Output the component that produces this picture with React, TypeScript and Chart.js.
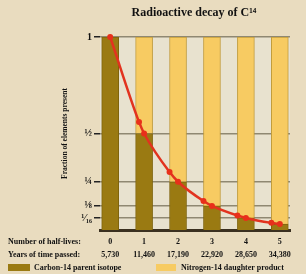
import React, { useEffect, useRef } from "react";
import { Chart, registerables } from "chart.js";
Chart.register(...registerables);

const halfLives = [0, 1, 2, 3, 4, 5];
const yearsPassed = ["5,730", "11,460", "17,190", "22,920", "28,650", "34,380"];
const carbon14 = [1, 0.5, 0.25, 0.125, 0.0625, 0.03125];
const nitrogen14 = [0, 0.5, 0.75, 0.875, 0.9375, 0.96875];
const curveX = [0, 0.85, 1, 1.75, 2, 2.75, 3, 3.75, 4, 4.75, 5];
const curveY = [1, 0.56, 0.5, 0.3, 0.25, 0.15, 0.125, 0.075, 0.0625, 0.037, 0.031];
const yTickValues = [1, 0.5, 0.25, 0.125, 0.0625];
const yTickLabels = ["1", "½", "¼", "⅛", "¹⁄₁₆"];

const FONT = "'Liberation Serif', 'DejaVu Serif', serif";
const PAGE_BG = "#e9dcbf";
const PLOT_BG = "#e8e2cf";
const OLIVE = "#9a7a12";
const YELLOW = "#f7cb62";

const decor = {
  id: "decor",
  beforeDraw(chart: any) {
    const { ctx, chartArea: a } = chart;
    ctx.save();
    ctx.fillStyle = PAGE_BG;
    ctx.fillRect(0, 0, chart.width, chart.height);
    ctx.fillStyle = PLOT_BG;
    ctx.fillRect(a.left, a.top, a.right - a.left, a.bottom - a.top);
    ctx.restore();
  },
  afterDraw(chart: any) {
    const { ctx, chartArea: a } = chart;
    ctx.save();
    ctx.fillStyle = "#111";
    ctx.textBaseline = "middle";
    ctx.font = `bold 12px ${FONT}`;
    ctx.textAlign = "center";
    ctx.fillText("Radioactive decay of C¹⁴", 194, 13);
    ctx.save();
    ctx.translate(65, (a.top + a.bottom) / 2);
    ctx.rotate(-Math.PI / 2);
    ctx.font = `bold 7.5px ${FONT}`;
    ctx.fillText("Fraction of elements present", 0, 0);
    ctx.restore();
    ctx.font = `bold 8px ${FONT}`;
    ctx.textAlign = "left";
    ctx.fillText("Number of half-lives:", 8, 242);
    ctx.fillText("Years of time passed:", 8, 255);
    ctx.fillStyle = OLIVE;
    ctx.fillRect(8, 264, 22, 7);
    ctx.fillStyle = YELLOW;
    ctx.fillRect(156, 264, 20, 7);
    ctx.fillStyle = "#111";
    ctx.fillText("Carbon-14 parent isotope", 34, 268);
    ctx.fillText("Nitrogen-14 daughter product", 181, 268);
    ctx.restore();
  },
};

export default function App() {
  const ref = useRef<HTMLCanvasElement | null>(null);
  useEffect(() => {
    if (!ref.current) return;
    const chart = new Chart(ref.current, {
      type: "bar",
      data: {
        datasets: [
          {
            type: "line",
            label: "Decay curve",
            data: curveX.map((x, i) => ({ x, y: curveY[i] })),
            borderColor: "#e2331f",
            borderWidth: 2.5,
            pointRadius: 3,
            pointBackgroundColor: "#e8301a",
            pointBorderWidth: 0,
            tension: 0.4,
            cubicInterpolationMode: "monotone",
            clip: false,
            order: 0,
            stack: "curve",
          } as any,
          {
            label: "Carbon-14 parent isotope",
            data: halfLives.map((x, i) => ({ x, y: carbon14[i] })),
            backgroundColor: OLIVE,
            borderColor: "#7f640c",
            borderWidth: 1,
            barThickness: 17,
            order: 1,
            stack: "bars",
          },
          {
            label: "Nitrogen-14 daughter product",
            data: halfLives.map((x, i) => ({ x, y: nitrogen14[i] })),
            backgroundColor: YELLOW,
            borderColor: "#c29c3c",
            borderWidth: 1,
            barThickness: 17,
            order: 1,
            stack: "bars",
          },
        ],
      },
      options: {
        animation: false,
        responsive: false,
        devicePixelRatio: 1,
        layout: { padding: { left: 0, right: 16, top: 37, bottom: 0 } },
        plugins: { legend: { display: false }, tooltip: { enabled: false }, title: { display: false } },
        scales: {
          x: {
            type: "linear",
            min: -0.3,
            max: 5.3,
            offset: false,
            afterBuildTicks: (s: any) => {
              s.ticks = halfLives.map((v) => ({ value: v }));
            },
            afterFit: (s: any) => {
              s.height = 44;
            },
            ticks: {
              autoSkip: false,
              maxRotation: 0,
              padding: 6,
              color: "#111",
              font: { family: FONT, size: 8, weight: "bold", lineHeight: 1.6 },
              callback: (v: any) => {
                const i = halfLives.indexOf(Number(v));
                return [String(v), yearsPassed[i] ?? ""];
              },
            },
            grid: { display: false, drawTicks: false, offset: false },
            border: { display: true, color: "#3a3020", width: 3 },
          },
          y: {
            min: 0,
            max: 1,
            stacked: true,
            afterBuildTicks: (s: any) => {
              s.ticks = yTickValues.map((v) => ({ value: v }));
            },
            afterFit: (s: any) => {
              s.width = 100;
            },
            ticks: {
              padding: 2,
              color: "#111",
              font: { family: FONT, size: 10, weight: "bold" },
              callback: (v: any) => {
                const i = yTickValues.indexOf(Number(v));
                return yTickLabels[i] ?? "";
              },
            },
            grid: { color: "#8f8872", lineWidth: 1.5, tickLength: 6, tickColor: "#222", tickWidth: 1.5 },
            border: { display: false },
          },
        },
      } as any,
      plugins: [decor],
    });
    return () => chart.destroy();
  }, []);
  return (
    <div style={{ position: "absolute", left: 0, top: 0, width: 306, height: 274, background: PAGE_BG }}>
      <canvas ref={ref} width={306} height={274} style={{ display: "block" }} />
    </div>
  );
}
